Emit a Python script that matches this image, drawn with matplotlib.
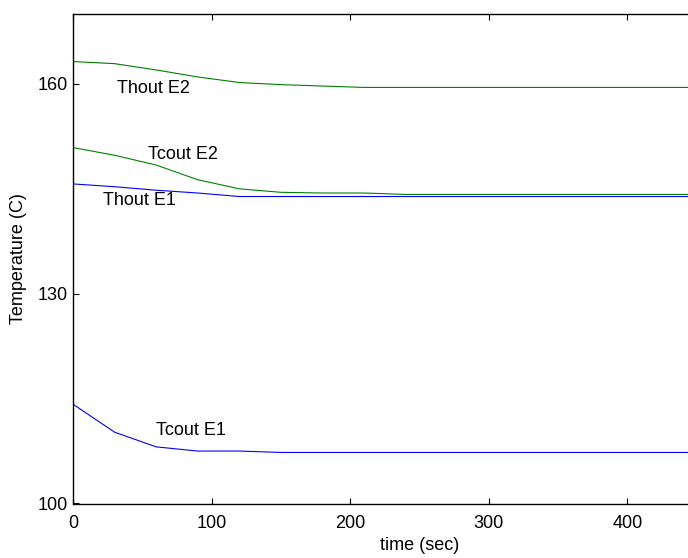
import matplotlib.pyplot as plt

plt.rcParams['font.family'] = ['Liberation Sans', 'DejaVu Sans']

t = [0, 30, 60, 90, 120, 150, 180, 210, 240, 270, 300, 330, 360, 390, 420, 450, 480, 500]
thout_e2 = [163.2, 162.9, 162.0, 161.0, 160.2, 159.9, 159.7, 159.5, 159.5, 159.5, 159.5, 159.5,
            159.5, 159.5, 159.5, 159.5, 159.5, 159.5]
tcout_e2 = [150.9, 149.8, 148.4, 146.3, 145.0, 144.5, 144.4, 144.4, 144.2, 144.2, 144.2, 144.2,
            144.2, 144.2, 144.2, 144.2, 144.2, 144.2]
thout_e1 = [145.7, 145.3, 144.8, 144.4, 143.9, 143.9, 143.9, 143.9, 143.9, 143.9, 143.9, 143.9,
            143.9, 143.9, 143.9, 143.9, 143.9, 143.9]
tcout_e1 = [114.2, 110.2, 108.1, 107.5, 107.5, 107.3, 107.3, 107.3, 107.3, 107.3, 107.3, 107.3,
            107.3, 107.3, 107.3, 107.3, 107.3, 107.3]

labels = ["Thout E2", "Tcout E2", "Thout E1", "Tcout E1"]
label_pos = [(58, 159.3), (79, 149.9), (48, 143.3), (85, 110.5)]

fig = plt.figure(figsize=(6.88, 5.58), dpi=100)
ax = fig.add_axes([73 / 688, 54.5 / 558, 500 * 1.386 / 688, 489.5 / 558])

ax.plot(t, thout_e2, color=(0, 0.5, 0), lw=0.8)
ax.plot(t, tcout_e2, color=(0, 0.5, 0), lw=0.8)
ax.plot(t, thout_e1, color=(0, 0, 1), lw=0.8)
ax.plot(t, tcout_e1, color=(0, 0, 1), lw=0.8)

for s, (x, y) in zip(labels, label_pos):
    ax.text(x, y, s, fontsize=13, ha='center', va='center')

ax.set_xlim(0, 500)
ax.set_ylim(100, 170)
ax.set_xticks([0, 100, 200, 300, 400])
ax.set_yticks([100, 130, 160])
ax.tick_params(direction='in', top=True, right=True, labelsize=13, length=4)
ax.tick_params(axis='x', pad=8)
for sp in ax.spines.values():
    sp.set_linewidth(1.0)
ax.set_xlabel("time (sec)", fontsize=13, labelpad=4)
ax.set_ylabel("Temperature (C)", fontsize=13, labelpad=8)

fig.savefig("out.png", dpi=100)
